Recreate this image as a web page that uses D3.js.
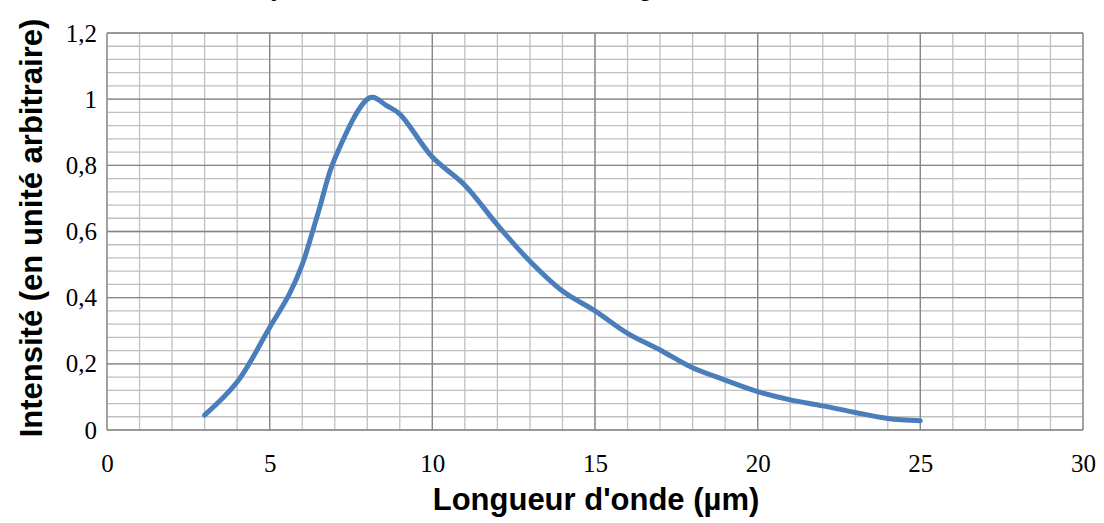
<!DOCTYPE html>
<html>
<head>
<meta charset="utf-8">
<script src="https://cdn.jsdelivr.net/npm/d3@7"></script>
<style>
  html, body { margin: 0; padding: 0; background: #fff; }
  svg { display: block; }
</style>
</head>
<body>
<svg id="chart" width="1104" height="523"></svg>
<script>
// Data
const wavelength = [3, 4, 5, 5.6, 6, 6.5, 7, 8.1, 8.6, 9, 10, 11, 12, 13, 14, 15, 16, 17, 18, 19, 20, 21, 22, 23, 24, 25];
const intensity  = [0.045, 0.145, 0.31, 0.41, 0.5, 0.66, 0.82, 1.005, 0.98, 0.955, 0.825, 0.74, 0.62, 0.51, 0.42, 0.36, 0.292, 0.242, 0.188, 0.151, 0.116, 0.091, 0.073, 0.053, 0.035, 0.028];
const xTicks = [0, 5, 10, 15, 20, 25, 30];
const yTicks = [0, 0.2, 0.4, 0.6, 0.8, 1, 1.2];
const titleText = "Intensité du rayonnement en fonction de la longueur d'onde";
const xTitle = "Longueur d'onde (µm)";
const yTitle = "Intensité (en unité arbitraire)";

const svg = d3.select("#chart");
const m = { left: 107, right: 1083, top: 33, bottom: 430 };

const x = d3.scaleLinear().domain([0, 30]).range([m.left, m.right]);
const y = d3.scaleLinear().domain([0, 1.2]).range([m.bottom, m.top]);

const minorX = d3.range(0, 31, 1);
const minorY = d3.range(0, 31).map(i => +(i * 0.04).toFixed(2));

const grid = svg.append("g");
grid.selectAll("line.mx").data(minorX).join("line")
  .attr("x1", d => x(d)).attr("x2", d => x(d))
  .attr("y1", m.top).attr("y2", m.bottom)
  .attr("stroke", "#c0c0c0").attr("stroke-width", 1.3);
grid.selectAll("line.my").data(minorY).join("line")
  .attr("x1", m.left).attr("x2", m.right)
  .attr("y1", d => y(d)).attr("y2", d => y(d))
  .attr("stroke", "#c0c0c0").attr("stroke-width", 1.3);
grid.selectAll("line.Mx").data(xTicks).join("line")
  .attr("x1", d => x(d)).attr("x2", d => x(d))
  .attr("y1", m.top).attr("y2", m.bottom)
  .attr("stroke", "#868686").attr("stroke-width", 1.3);
grid.selectAll("line.My").data(yTicks).join("line")
  .attr("x1", m.left).attr("x2", m.right)
  .attr("y1", d => y(d)).attr("y2", d => y(d))
  .attr("stroke", "#868686").attr("stroke-width", 1.3);

const fmt = d => String(d).replace(".", ",");
const xAxis = svg.append("g")
  .attr("transform", `translate(0,${m.bottom})`)
  .call(d3.axisBottom(x).tickValues(xTicks).tickFormat(fmt).tickSize(0).tickPadding(24));
const yAxis = svg.append("g")
  .attr("transform", `translate(${m.left},0)`)
  .call(d3.axisLeft(y).tickValues(yTicks).tickFormat(fmt).tickSize(0).tickPadding(10));
[xAxis, yAxis].forEach(a => {
  a.select(".domain").remove();
  a.selectAll("text")
    .attr("font-family", "'Liberation Serif', 'DejaVu Serif', serif")
    .attr("font-size", 25).attr("fill", "#000");
});

const line = d3.line()
  .x((d, i) => x(wavelength[i]))
  .y(d => y(d))
  .curve(d3.curveCatmullRom.alpha(0.5));
svg.append("path")
  .datum(intensity)
  .attr("d", line)
  .attr("fill", "none")
  .attr("stroke", "#4a7ebb")
  .attr("stroke-width", 5)
  .attr("stroke-linecap", "round")
  .attr("stroke-linejoin", "round");

svg.append("text")
  .attr("x", 448).attr("y", -4)
  .attr("text-anchor", "middle")
  .attr("font-family", "'Liberation Sans', Arial, sans-serif")
  .attr("font-weight", "bold").attr("font-size", 24)
  .text(titleText);

svg.append("text")
  .attr("x", 596).attr("y", 510)
  .attr("text-anchor", "middle")
  .attr("font-family", "'Liberation Sans', Arial, sans-serif")
  .attr("font-weight", "bold").attr("font-size", 31)
  .text(xTitle);

svg.append("text")
  .attr("transform", `translate(42,228) rotate(-90)`)
  .attr("text-anchor", "middle")
  .attr("font-family", "'Liberation Sans', Arial, sans-serif")
  .attr("font-weight", "bold").attr("font-size", 31)
  .text(yTitle);
</script>
</body>
</html>
